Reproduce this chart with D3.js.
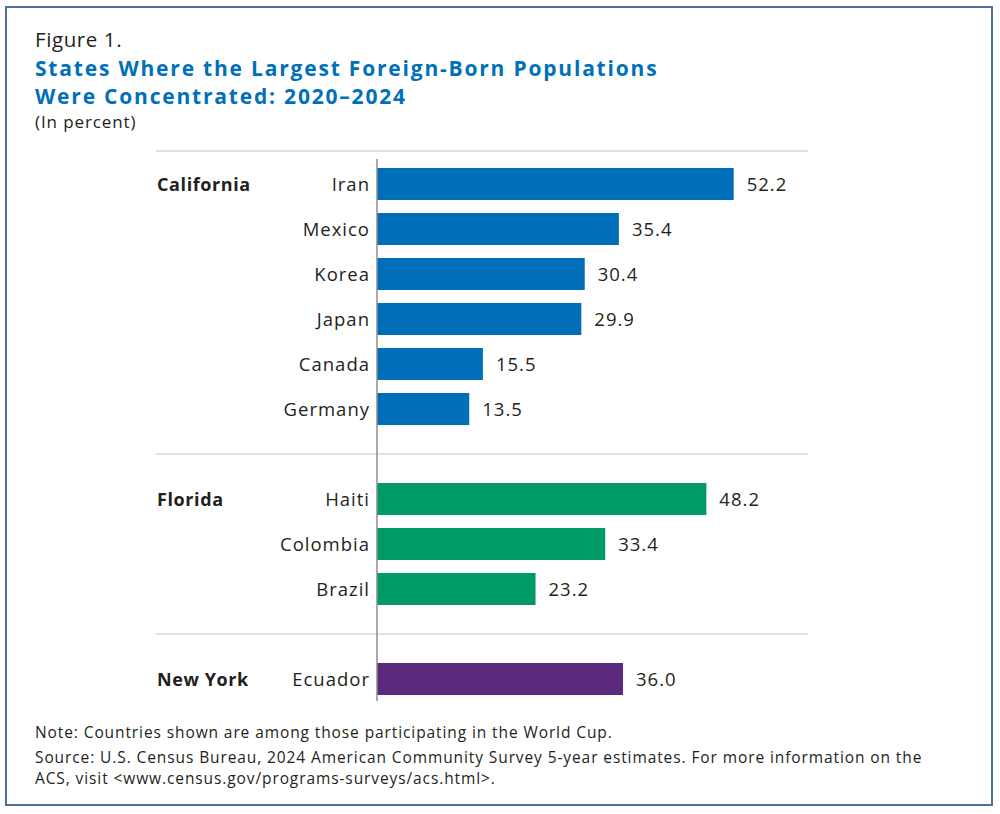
<!DOCTYPE html>
<html>
<head>
<meta charset="utf-8">
<script src="https://cdn.jsdelivr.net/npm/d3@7"></script>
<style>
  body { margin: 0; background: #fff; }
  text { font-family: "Open Sans", "Noto Sans", sans-serif; fill: #231f20; }
</style>
</head>
<body>
<script>
// data
var states = ["California", "Florida", "New York"];
var countries = [
  ["Iran", "Mexico", "Korea", "Japan", "Canada", "Germany"],
  ["Haiti", "Colombia", "Brazil"],
  ["Ecuador"]
];
var values = [
  [52.2, 35.4, 30.4, 29.9, 15.5, 13.5],
  [48.2, 33.4, 23.2],
  [36.0]
];
var colors = ["#006eb8", "#009a64", "#5e2a7e"];

var W = 1000, H = 814;

var svg = d3.select("body").append("svg")
  .attr("width", W)
  .attr("height", H);

svg.append("rect")
  .attr("x", 6).attr("y", 7)
  .attr("width", 986).attr("height", 798)
  .attr("fill", "#fff")
  .attr("stroke", "#4d6f9f")
  .attr("stroke-width", 2);

// titulo
svg.append("text").attr("x", 35).attr("y", 47)
  .attr("font-size", 20.5).attr("letter-spacing", 0.6).text("Figure 1.");
svg.append("text").attr("x", 35).attr("y", 76)
  .attr("font-size", 21).attr("font-weight", "bold").attr("letter-spacing", 1.8)
  .style("fill", "#0070b9")
  .text("States Where the Largest Foreign-Born Populations");
svg.append("text").attr("x", 35).attr("y", 104)
  .attr("font-size", 21).attr("font-weight", "bold").attr("letter-spacing", 1.8)
  .style("fill", "#0070b9")
  .text("Were Concentrated: 2020\u20132024");
svg.append("text").attr("x", 35).attr("y", 128)
  .attr("font-size", 17).attr("letter-spacing", 0.9).text("(In percent)");

// rows: one slot per bar plus a slot for each separator
var rows = [];
var slots = [];
countries.forEach(function(g, gi) {
  if (gi > 0) slots.push("sep" + gi);
  g.forEach(function(c, ci) {
    rows.push({ state: states[gi], group: gi, first: ci === 0, name: c, value: values[gi][ci] });
    slots.push(c);
  });
});

var x = d3.scaleLinear().domain([0, 60]).range([377, 787]);
var y = d3.scalePoint().domain(slots).range([184, 679]);
var barH = 32;

var lineLeft = 156, lineRight = 808;

// separators
var seps = [y(slots[0]) - 33].concat(slots.filter(function(s) { return s.indexOf("sep") === 0; }).map(y));
svg.selectAll("line.sep")
  .data(seps)
  .enter().append("line")
  .attr("class", "sep")
  .attr("x1", lineLeft).attr("x2", lineRight)
  .attr("y1", function(d) { return d; })
  .attr("y2", function(d) { return d; })
  .attr("stroke", "#d9d9d9")
  .attr("stroke-width", 1.3);

// bars
svg.selectAll("rect.bar")
  .data(rows)
  .enter().append("rect")
  .attr("class", "bar")
  .attr("x", x(0))
  .attr("y", function(d) { return y(d.name) - barH / 2; })
  .attr("width", function(d) { return x(d.value) - x(0); })
  .attr("height", barH)
  .attr("fill", function(d) { return colors[d.group]; });

// axis line
svg.append("line")
  .attr("x1", x(0)).attr("x2", x(0))
  .attr("y1", y(slots[0]) - 25)
  .attr("y2", y(slots[slots.length - 1]) + 22)
  .attr("stroke", "#8c8c8c")
  .attr("stroke-width", 1.5);

// country labels
svg.selectAll("text.cat")
  .data(rows)
  .enter().append("text")
  .attr("class", "cat")
  .attr("x", x(0) - 7)
  .attr("y", function(d) { return y(d.name) + 1; })
  .attr("dy", "0.35em")
  .attr("text-anchor", "end")
  .attr("font-size", 18.5)
  .attr("letter-spacing", 1)
  .text(function(d) { return d.name; });

// values
svg.selectAll("text.val")
  .data(rows)
  .enter().append("text")
  .attr("class", "val")
  .attr("x", function(d) { return x(d.value) + 13; })
  .attr("y", function(d) { return y(d.name) + 1; })
  .attr("dy", "0.35em")
  .attr("font-size", 18.5)
  .attr("letter-spacing", 1)
  .text(function(d) { return d.value.toFixed(1); });

// state labels
svg.selectAll("text.state")
  .data(rows.filter(function(d) { return d.first; }))
  .enter().append("text")
  .attr("class", "state")
  .attr("x", 157)
  .attr("y", function(d) { return y(d.name) + 1; })
  .attr("dy", "0.35em")
  .attr("font-size", 18)
  .attr("font-weight", "bold")
  .attr("letter-spacing", 0.6)
  .text(function(d) { return d.state; });

// notas
var notes = [
  "Note: Countries shown are among those participating in the World Cup.",
  "Source: U.S. Census Bureau, 2024 American Community Survey 5-year estimates. For more information on the",
  "ACS, visit <www.census.gov/programs-surveys/acs.html>."
];
var noteY = [738, 763, 784];
svg.selectAll("text.note")
  .data(notes)
  .enter().append("text")
  .attr("class", "note")
  .attr("x", 35)
  .attr("y", function(d, i) { return noteY[i]; })
  .attr("font-size", 15.5)
  .attr("letter-spacing", 0.9)
  .text(function(d) { return d; });
</script>
</body>
</html>
